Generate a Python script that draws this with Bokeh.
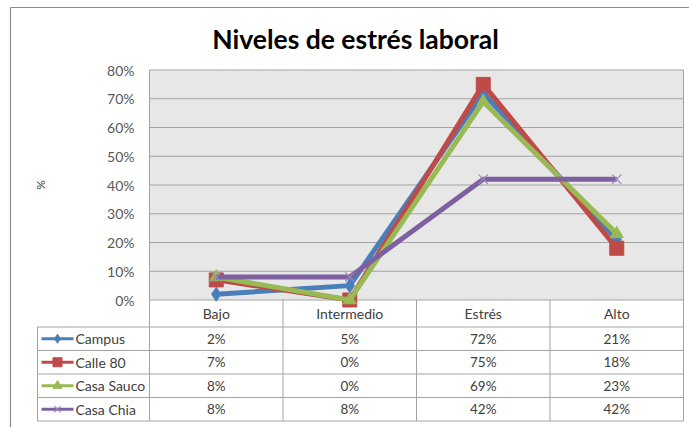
import math
from bokeh.plotting import figure
from bokeh.models import Range1d, FixedTicker, NumeralTickFormatter, BoxAnnotation
from bokeh.embed import file_html
from bokeh.resources import INLINE
from bokeh.core.properties import value

# ---- data ----
title_text = "Niveles de estrés laboral"
y_label = "%"
categories = ["Bajo", "Intermedio", "Estrés", "Alto"]
series_names = ["Campus", "Calle 80", "Casa Sauco", "Casa Chia"]
campus = [2, 5, 72, 21]
calle_80 = [7, 0, 75, 18]
casa_sauco = [8, 0, 69, 23]
casa_chia = [8, 8, 42, 42]
y_ticks = [0, 10, 20, 30, 40, 50, 60, 70, 80]

series_values = [campus, calle_80, casa_sauco, casa_chia]
colors = ["#4A7EBB", "#BE4B48", "#98B954", "#7D60A0"]
markers = ["diamond", "square", "triangle", "x"]
marker_sizes = [14, 14, 13, 13]

FONT = "Lato"
GRID = "#a3a3a3"
TXT = "#404040"

n = len(categories)
m = len(series_names)
xs = [i + 0.5 for i in range(n)]
ticks = [t / 100 for t in y_ticks]
ytop = max(ticks)

W, H = 689, 427
# layout constants (pixels -> data units)
X0 = 149                 # left edge of plot area (px)
Y0 = 299.5               # 0 % line (px from top)
PX_X = 133.5             # px per category
PX_Y = 287.5             # px per 1.0 (100 %)
HEADER_H = 27 / PX_Y
ROW_H = 23.5 / PX_Y
LEFT_COL = (37 - X0) / PX_X
bottom = -HEADER_H - m * ROW_H


def px_x(px):
    return (px - X0) / PX_X


def px_y(py):
    return (Y0 - py) / PX_Y


p = figure(width=W, height=H,
           x_range=Range1d(px_x(0), px_x(W)),
           y_range=Range1d(px_y(H), px_y(0)),
           x_axis_location=None, output_backend="svg", toolbar_location=None,
           min_border=0, min_border_left=0, min_border_right=0, min_border_top=0,
           min_border_bottom=0,
           background_fill_color="white", border_fill_color="white",
           outline_line_color=None)
p.xgrid.visible = False
p.ygrid.visible = False

# outer chart border (left and top)
p.segment(x0=[px_x(10), px_x(10)], y0=[px_y(H), px_y(7)], x1=[px_x(10), px_x(W)],
          y1=[px_y(7), px_y(7)], line_color="#8c8c8c", line_width=1.2)

# title
p.text(x=[px_x(355)], y=[px_y(38)], text=[title_text], text_align="center",
       text_baseline="middle", text_font=value(FONT), text_font_size="26.5px",
       text_font_style="bold", text_color="black")

# plot area
p.add_layout(BoxAnnotation(left=0, right=n, bottom=0, top=ytop, fill_color="#e7e7e7",
                           fill_alpha=1, line_color=None, level="image"))
p.segment(x0=[0] * len(ticks), y0=ticks, x1=[n] * len(ticks), y1=ticks,
          line_color=GRID, line_width=1)

# y axis placed at the left edge of the plot area
ax = p.yaxis[0]
ax.fixed_location = 0
ax.ticker = FixedTicker(ticks=ticks)
ax.formatter = NumeralTickFormatter(format="0%")
ax.major_tick_line_color = None
ax.minor_tick_line_color = None
ax.axis_line_color = None
ax.major_label_standoff = 9
ax.major_label_text_font = FONT
ax.major_label_text_font_size = "14px"
ax.major_label_text_color = "#595959"

# axis title
p.text(x=[px_x(40)], y=[ytop / 2], text=[y_label], angle=math.pi / 2, text_align="center",
       text_baseline="middle", text_font=value(FONT), text_font_size="12px", text_color=TXT)

# series lines
for vals, col, mk, ms in zip(series_values, colors, markers, marker_sizes):
    ys = [v / 100 for v in vals]
    p.line(xs, ys, line_color=col, line_width=5)
    if mk == "x":
        p.scatter(xs, ys, marker=mk, size=ms, line_color="#9a86b8", line_width=1.2)
    else:
        p.scatter(xs, ys, marker=mk, size=ms, fill_color=col, line_color=col)

# ---- data table ----
p.text(x=xs, y=[-HEADER_H / 2] * n, text=categories, text_align="center", text_baseline="middle",
       text_font=value(FONT), text_font_size="14px", text_color=TXT)
p.segment(x0=[0, n], y0=[ytop, ytop], x1=[0, n], y1=[bottom, bottom], line_color=GRID)
p.segment(x0=list(range(1, n)), y0=[0] * (n - 1), x1=list(range(1, n)), y1=[bottom] * (n - 1),
          line_color=GRID)
p.segment(x0=[LEFT_COL], y0=[-HEADER_H], x1=[LEFT_COL], y1=[bottom], line_color=GRID)
hy = [-HEADER_H - k * ROW_H for k in range(m + 1)]
p.segment(x0=[LEFT_COL] * (m + 1), y0=hy, x1=[n] * (m + 1), y1=hy, line_color=GRID)

row_y = [-HEADER_H - (i + 0.5) * ROW_H for i in range(m)]
cell_x, cell_y, cell_t = [], [], []
for i, vals in enumerate(series_values):
    for j, v in enumerate(vals):
        cell_x.append(xs[j])
        cell_y.append(row_y[i])
        cell_t.append(f"{v}%")
p.text(x=cell_x, y=cell_y, text=cell_t, text_align="center", text_baseline="middle",
       text_font=value(FONT), text_font_size="13.5px", text_color=TXT)

# legend keys in the first column
for i, (col, mk) in enumerate(zip(colors, markers)):
    p.line([px_x(41), px_x(73)], [row_y[i], row_y[i]], line_color=col, line_width=3)
    if mk == "x":
        p.scatter([px_x(57)], [row_y[i]], marker=mk, size=9, line_color="#9a86b8", line_width=1.2)
    else:
        p.scatter([px_x(57)], [row_y[i]], marker=mk, size=9, fill_color=col, line_color=col)
p.text(x=[px_x(75)] * m, y=row_y, text=series_names, text_align="left", text_baseline="middle",
       text_font=value(FONT), text_font_size="14px", text_color=TXT)

open("out.html", "w").write(file_html(p, INLINE))
